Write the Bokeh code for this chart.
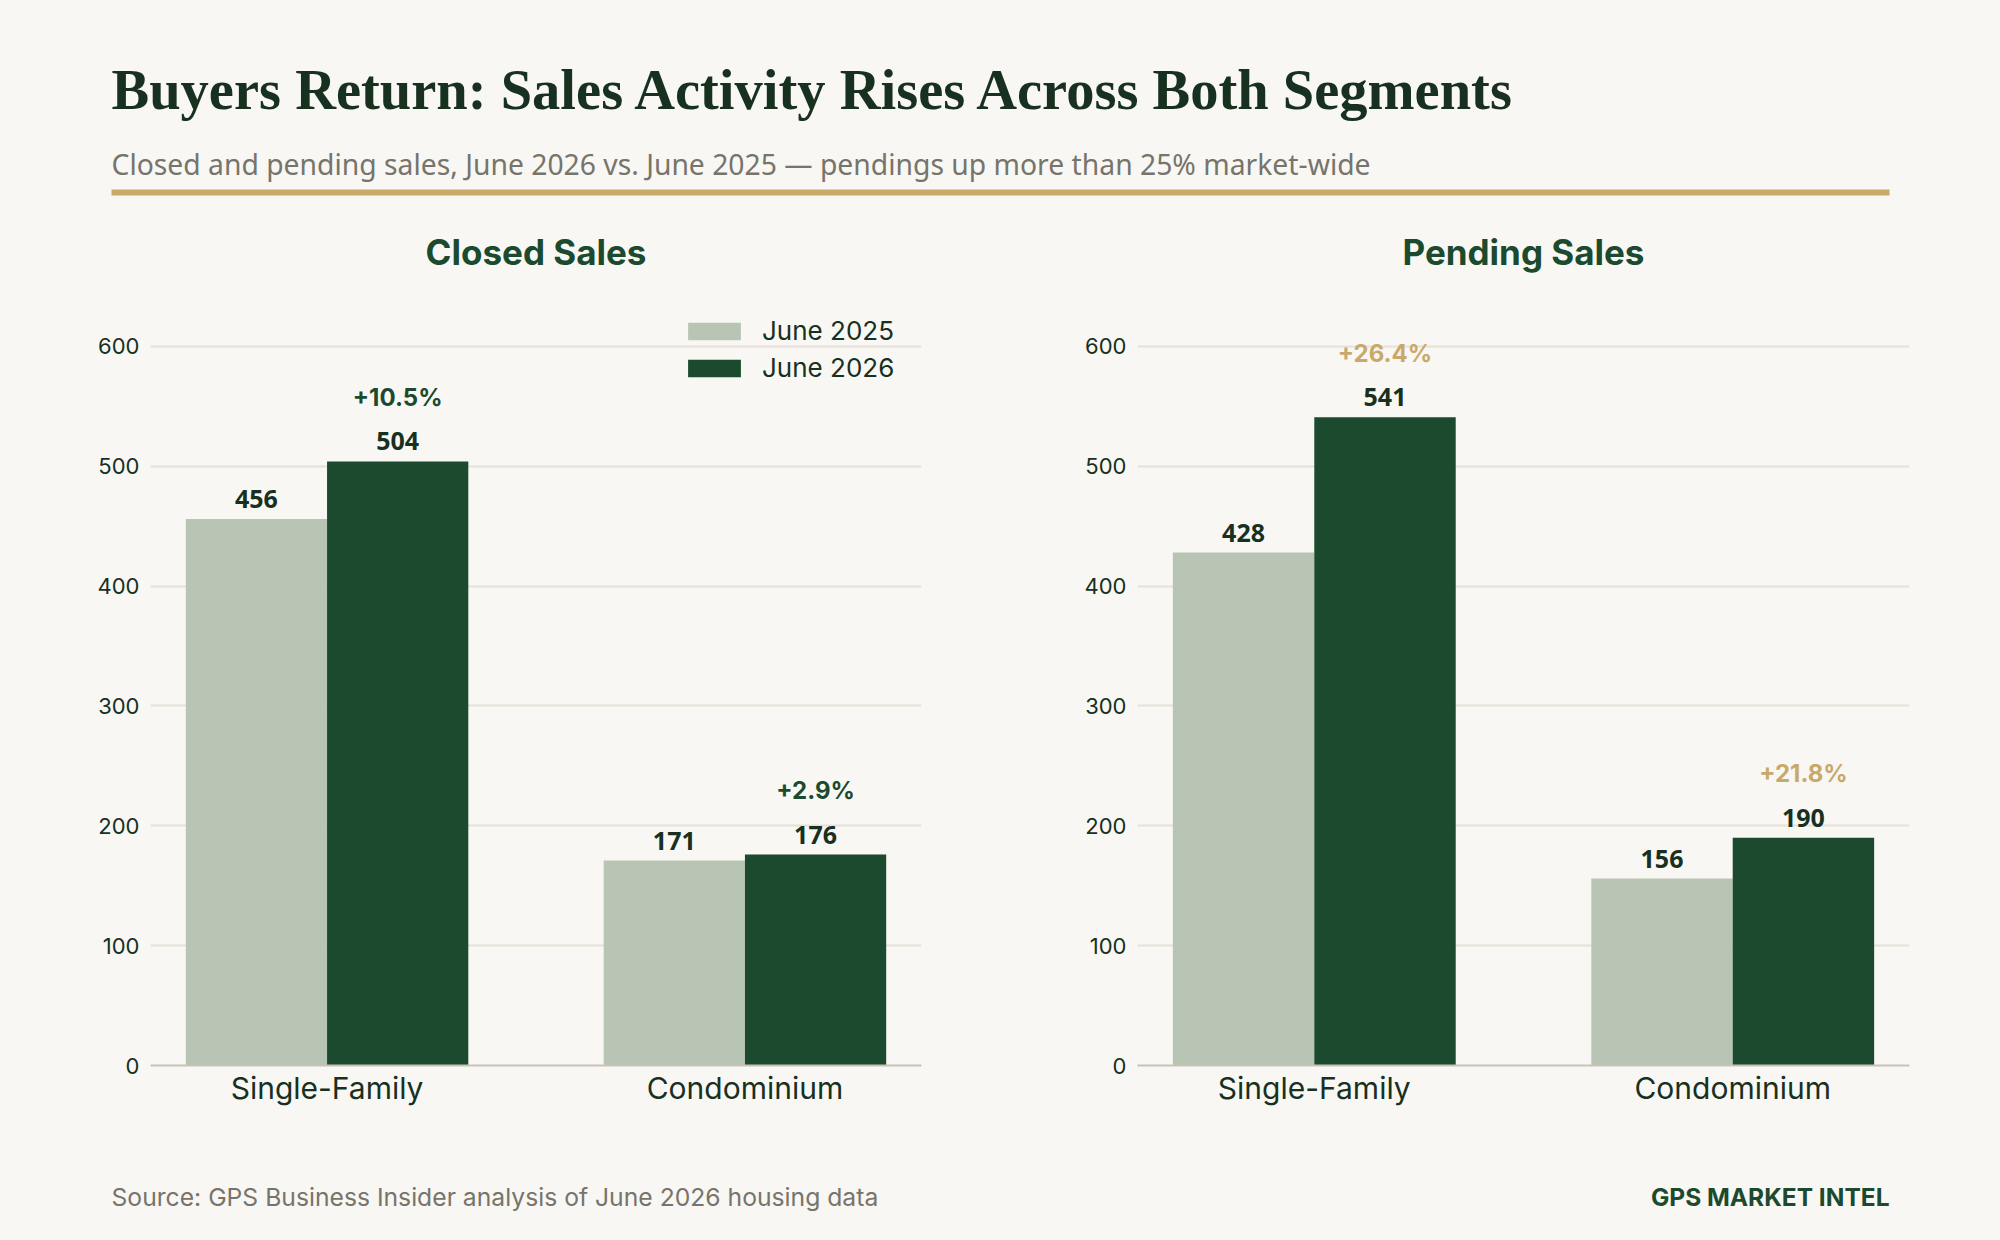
from bokeh.plotting import figure
from bokeh.models import ColumnDataSource, FactorRange, Range1d, Legend, LegendItem
from bokeh.layouts import column, row
from bokeh.transform import dodge
from bokeh.core.properties import value
from bokeh.embed import file_html
from bokeh.resources import INLINE

# ---------------- data ----------------
categories = ["Single-Family", "Condominium"]
series_labels = ["June 2025", "June 2026"]
closed_2025 = [456, 171]
closed_2026 = [504, 176]
pending_2025 = [428, 156]
pending_2026 = [541, 190]
closed_pct = ["+10.5%", "+2.9%"]
pending_pct = ["+26.4%", "+21.8%"]
y_ticks = [0, 100, 200, 300, 400, 500, 600]
panel_titles = ["Closed Sales", "Pending Sales"]

TITLE = "Buyers Return: Sales Activity Rises Across Both Segments"
SUBTITLE = "Closed and pending sales, June 2026 vs. June 2025 \u2014 pendings up more than 25% market-wide"
SOURCE = "Source: GPS Business Insider analysis of June 2026 housing data"
BRAND = "GPS MARKET INTEL"

# ---------------- style ----------------
BG = "#f8f7f3"
LIGHT = "#b9c5b4"
DARK = "#1b4a2e"
GOLD = "#c9a96a"
INK = "#17301f"
GREY = "#76746b"
GRID = "#e6e1d8"
AXIS = "#c9c3b5"

BAR_W = 0.338
OFF = BAR_W / 2


def base_fig(**kw):
    return figure(output_backend="svg", toolbar_location=None,
                  background_fill_color=BG, border_fill_color=BG,
                  outline_line_color=None, styles={"background-color": BG}, **kw)


def make_panel(v25, v26, pct, pct_color, width, bl, br, with_legend):
    p = base_fig(x_range=FactorRange(*categories, range_padding=-0.0775),
                 y_range=Range1d(0, 640), width=width, height=860,
                 min_border_left=bl, min_border_right=br,
                 min_border_top=8, min_border_bottom=85)
    src = ColumnDataSource(dict(cat=categories, a=v25, b=v26,
                                la=[str(v) for v in v25],
                                lb=[str(v) for v in v26], pct=pct))
    xa = dodge("cat", -OFF, range=p.x_range)
    xb = dodge("cat", OFF, range=p.x_range)
    r1 = p.vbar(x=xa, top="a", width=BAR_W, source=src, fill_color=LIGHT, line_color=None)
    r2 = p.vbar(x=xb, top="b", width=BAR_W, source=src, fill_color=DARK, line_color=None)
    for xx, yy, tt in ((xa, "a", "la"), (xb, "b", "lb")):
        p.text(x=xx, y=yy, text=tt, source=src, y_offset=-20,
               text_align="center", text_baseline="middle",
               text_font=value("Noto Sans"), text_font_style="bold",
               text_font_size="25px", text_color=INK)
    p.text(x=xb, y="b", text="pct", source=src, y_offset=-64,
           text_align="center", text_baseline="middle",
           text_font=value("Inter"), text_font_style="bold",
           text_font_size="24px", text_color=pct_color)

    p.xgrid.grid_line_color = None
    p.ygrid.grid_line_color = GRID
    p.ygrid.grid_line_width = 2
    p.yaxis.ticker = y_ticks
    p.yaxis.axis_line_color = None
    p.yaxis.major_tick_line_color = None
    p.yaxis.minor_tick_line_color = None
    p.yaxis.major_label_standoff = 5
    p.yaxis.major_label_text_font = "Inter"
    p.yaxis.major_label_text_font_size = "22px"
    p.yaxis.major_label_text_color = INK
    p.xaxis.axis_line_color = AXIS
    p.xaxis.axis_line_width = 2
    p.xaxis.major_tick_line_color = None
    p.xaxis.minor_tick_line_color = None
    p.xaxis.major_label_standoff = -2
    p.xaxis.major_label_text_font = "Inter"
    p.xaxis.major_label_text_font_size = "30px"
    p.xaxis.major_label_text_color = INK

    if with_legend:
        leg = Legend(items=[LegendItem(label=series_labels[0], renderers=[r1]),
                            LegendItem(label=series_labels[1], renderers=[r2])],
                     location="top_right", margin=0, padding=17, spacing=6,
                     glyph_width=66, glyph_height=22, label_standoff=15,
                     label_width=142,
                     label_text_font="Inter", label_text_font_size="26px",
                     label_text_color=INK, background_fill_alpha=0,
                     border_line_color=BG, border_line_alpha=0)
        p.add_layout(leg)
    return p


left = make_panel(closed_2025, closed_2026, closed_pct, DARK, 1000, 150, 79, True)
right = make_panel(pending_2025, pending_2026, pending_pct, GOLD, 1000, 137, 91, False)

# ---------------- header ----------------
header = base_fig(width=2000, height=290, x_range=Range1d(0, 2000), y_range=Range1d(290, 0),
                  x_axis_type=None, y_axis_type=None, min_border=0)
header.text(x=[111], y=[89.5], text=[TITLE], text_font=value("Liberation Serif"),
            text_font_style="bold", text_font_size="56.5px", text_color=INK,
            text_baseline="middle")
header.text(x=[111], y=[163.5], text=[SUBTITLE], text_font=value("Noto Sans"),
            text_font_size="28.3px", text_color=GREY, text_baseline="middle")
header.segment(x0=[111], y0=[192], x1=[1889], y1=[192], line_width=6, line_color=GOLD)
header.text(x=[535.5, 1523], y=[251, 251], text=panel_titles, text_font=value("Inter"),
            text_font_style="bold", text_font_size="35px", text_color=DARK,
            text_align="center", text_baseline="middle")

# ---------------- footer ----------------
footer = base_fig(width=2000, height=90, x_range=Range1d(0, 2000), y_range=Range1d(90, 0),
                  x_axis_type=None, y_axis_type=None, min_border=0)
footer.text(x=[111], y=[46], text=[SOURCE], text_font=value("Inter"),
            text_font_size="24.7px", text_color=GREY, text_baseline="middle")
footer.text(x=[1889], y=[46], text=[BRAND], text_font=value("Inter"),
            text_font_style="bold", text_font_size="24.5px", text_color=DARK,
            text_align="right", text_baseline="middle")

layout = column(header, row(left, right, styles={"background-color": BG}), footer,
                styles={"background-color": BG})
html = file_html(layout, INLINE)
html = html.replace("<body>", '<body style="margin:0;background:%s">' % BG, 1)
html = html.replace("</head>", "<style>html,body{background:%s;margin:0}</style></head>" % BG, 1)
open("out.html", "w").write(html)
